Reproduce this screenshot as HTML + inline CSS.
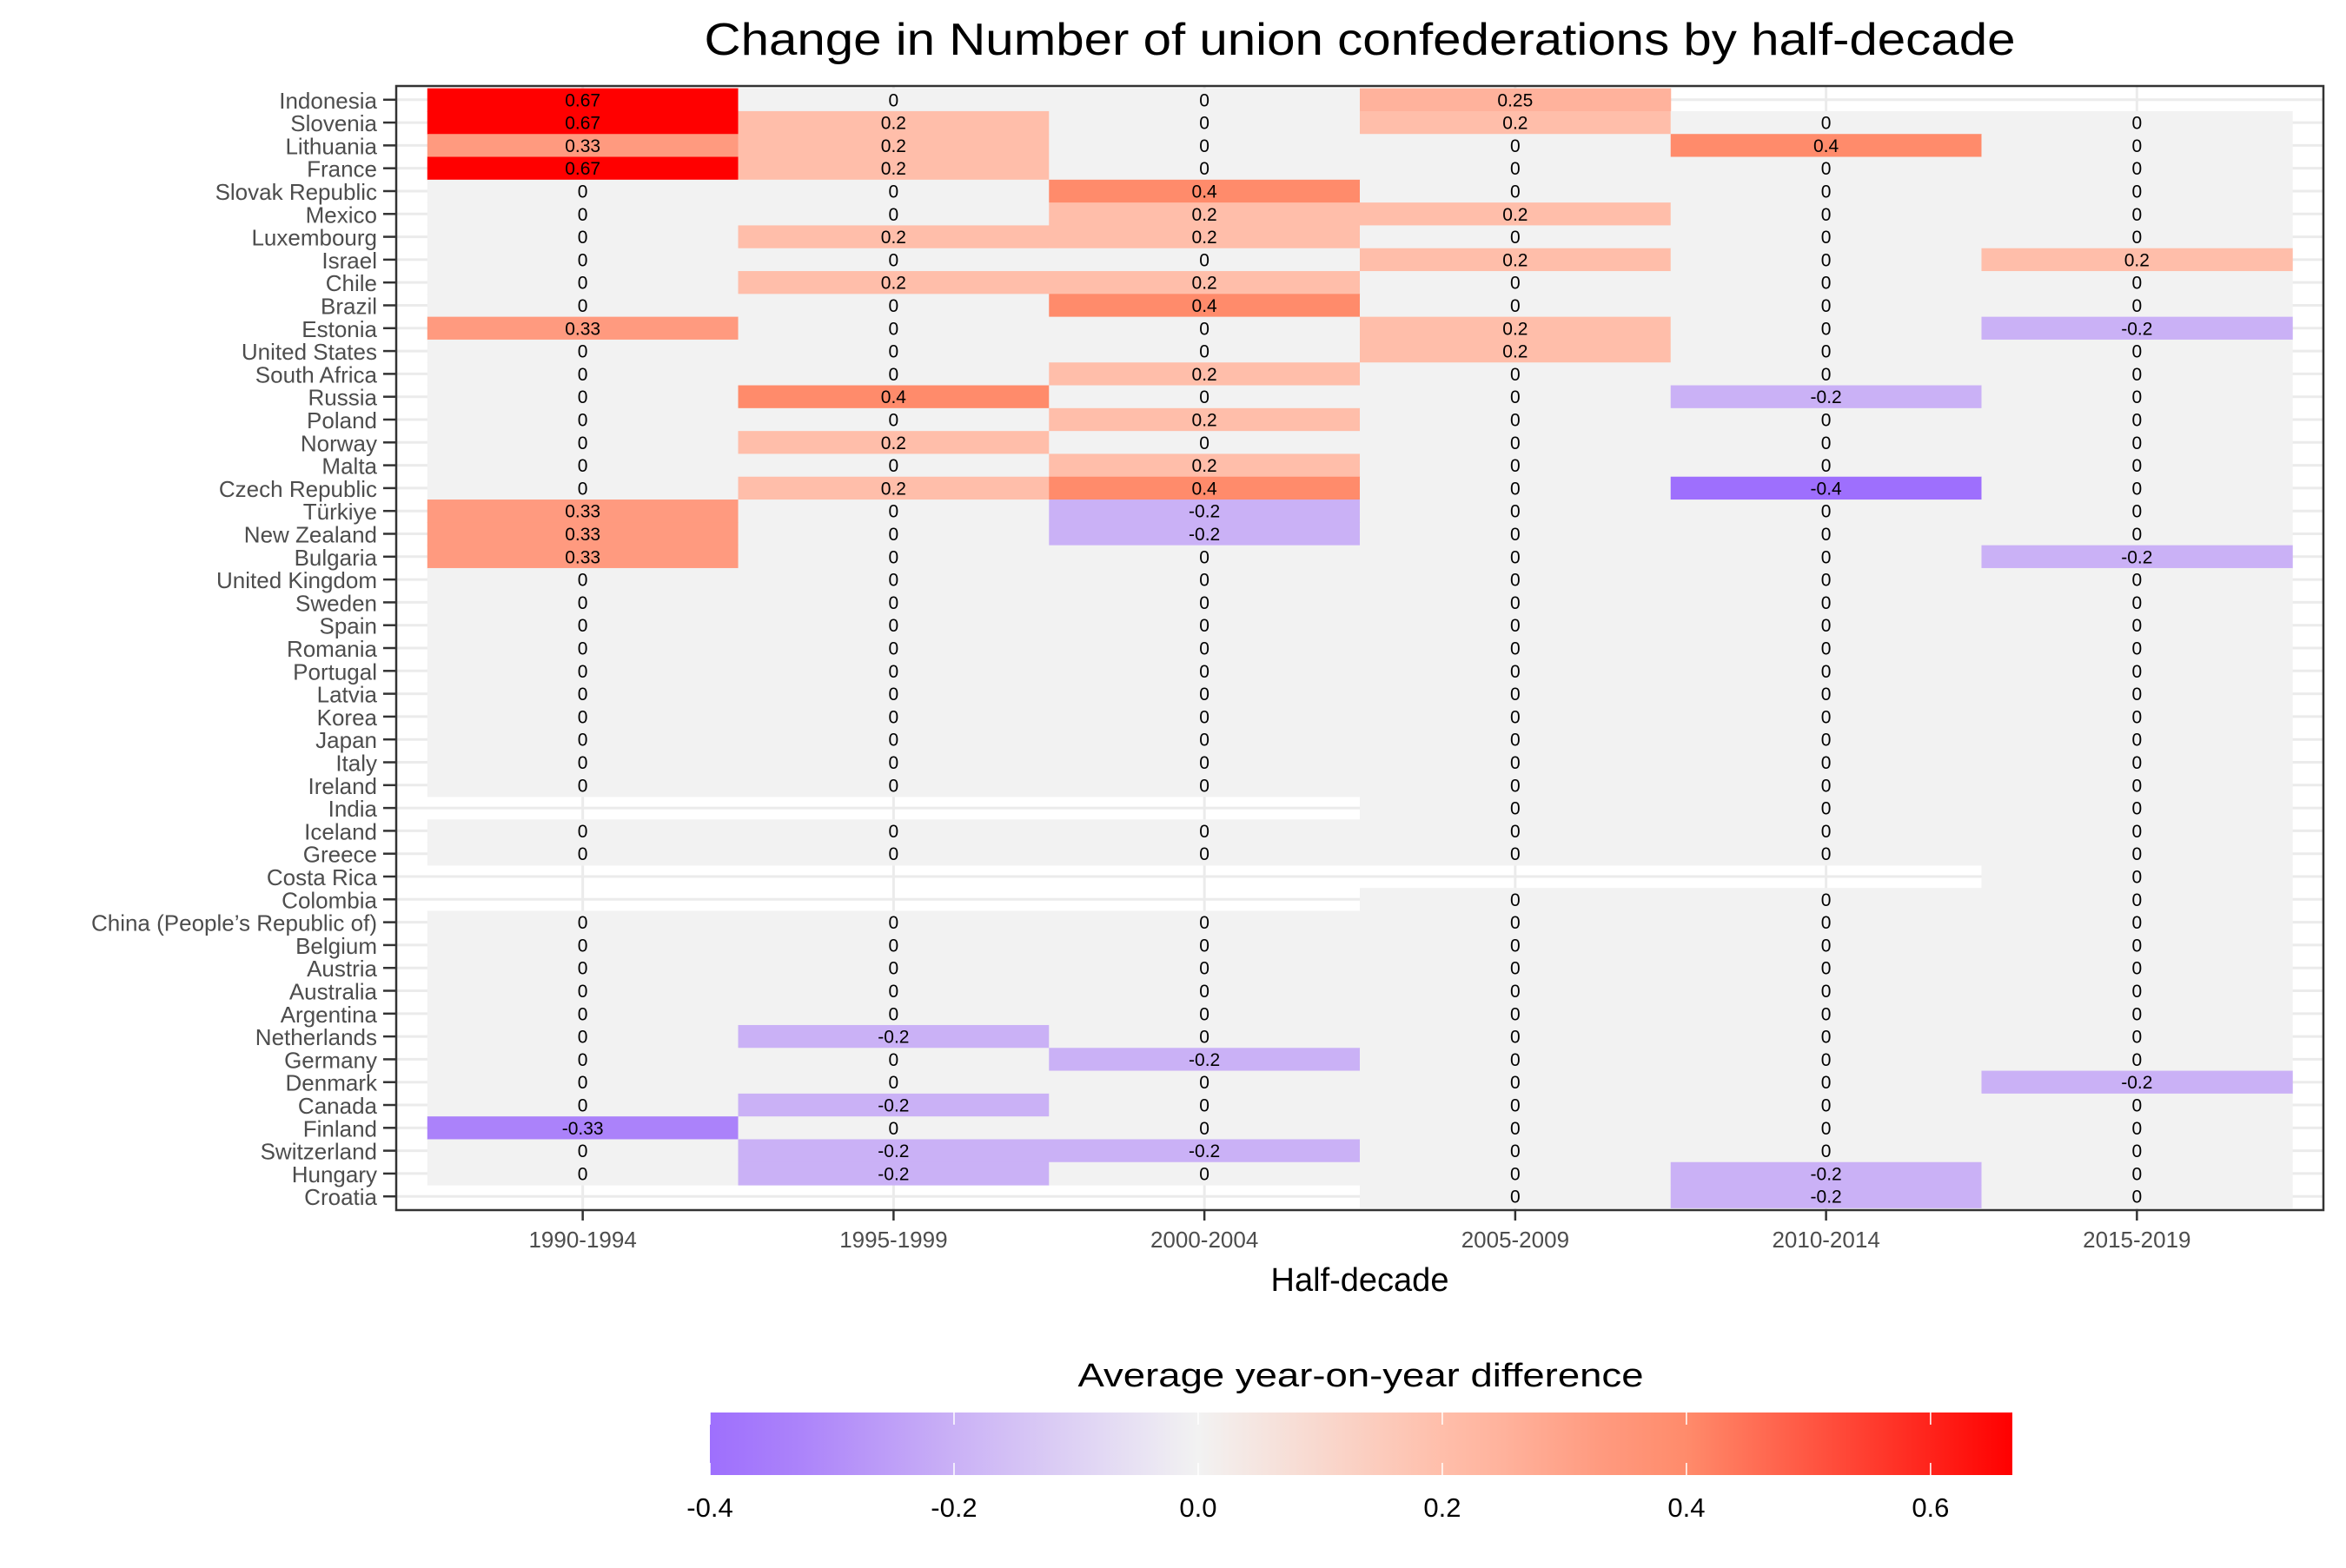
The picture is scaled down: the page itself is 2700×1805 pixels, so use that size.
<!DOCTYPE html>
<html><head><meta charset="utf-8"><style>
html,body{margin:0;padding:0;background:#fff;}
svg text{font-family:"Liberation Sans",Arial,sans-serif;}
</style></head><body>
<svg id="chart" xmlns="http://www.w3.org/2000/svg" width="2700" height="1800" viewBox="0 0 2700 1800">
<rect width="2700" height="1800" fill="#fff"/>
<text x="1565" y="63" font-size="52" text-anchor="middle" textLength="1509" lengthAdjust="spacingAndGlyphs" fill="#000">Change in Number of union confederations by half-decade</text>
<g id="grid"></g><g id="tiles"></g><g id="labels"></g><g id="axes"></g><g id="legend"></g>
</svg>
<script>
const countries = ["Indonesia","Slovenia","Lithuania","France","Slovak Republic","Mexico","Luxembourg","Israel","Chile","Brazil","Estonia","United States","South Africa","Russia","Poland","Norway","Malta","Czech Republic","Türkiye","New Zealand","Bulgaria","United Kingdom","Sweden","Spain","Romania","Portugal","Latvia","Korea","Japan","Italy","Ireland","India","Iceland","Greece","Costa Rica","Colombia","China (People’s Republic of)","Belgium","Austria","Australia","Argentina","Netherlands","Germany","Denmark","Canada","Finland","Switzerland","Hungary","Croatia"];
const periods = ["1990-1994","1995-1999","2000-2004","2005-2009","2010-2014","2015-2019"];
const N = null;
const values = [
[0.67,0,0,0.25,N,N],
[0.67,0.2,0,0.2,0,0],
[0.33,0.2,0,0,0.4,0],
[0.67,0.2,0,0,0,0],
[0,0,0.4,0,0,0],
[0,0,0.2,0.2,0,0],
[0,0.2,0.2,0,0,0],
[0,0,0,0.2,0,0.2],
[0,0.2,0.2,0,0,0],
[0,0,0.4,0,0,0],
[0.33,0,0,0.2,0,-0.2],
[0,0,0,0.2,0,0],
[0,0,0.2,0,0,0],
[0,0.4,0,0,-0.2,0],
[0,0,0.2,0,0,0],
[0,0.2,0,0,0,0],
[0,0,0.2,0,0,0],
[0,0.2,0.4,0,-0.4,0],
[0.33,0,-0.2,0,0,0],
[0.33,0,-0.2,0,0,0],
[0.33,0,0,0,0,-0.2],
[0,0,0,0,0,0],[0,0,0,0,0,0],[0,0,0,0,0,0],[0,0,0,0,0,0],[0,0,0,0,0,0],
[0,0,0,0,0,0],[0,0,0,0,0,0],[0,0,0,0,0,0],[0,0,0,0,0,0],[0,0,0,0,0,0],
[N,N,N,0,0,0],
[0,0,0,0,0,0],
[0,0,0,0,0,0],
[N,N,N,N,N,0],
[N,N,N,0,0,0],
[0,0,0,0,0,0],[0,0,0,0,0,0],[0,0,0,0,0,0],[0,0,0,0,0,0],[0,0,0,0,0,0],
[0,-0.2,0,0,0,0],
[0,0,-0.2,0,0,0],
[0,0,0,0,0,-0.2],
[0,-0.2,0,0,0,0],
[-0.33,0,0,0,0,0],
[0,-0.2,-0.2,0,0,0],
[0,-0.2,0,0,-0.2,0],
[N,N,N,0,-0.2,0]
];
const legendTicks = [-0.4,-0.2,0,0.2,0.4,0.6];
const legendMin = -0.4, legendMax = 0.667;

const NS="http://www.w3.org/2000/svg";
function mk(tag,attrs,parent,text){const e=document.createElementNS(NS,tag);for(const k in attrs)e.setAttribute(k,attrs[k]);if(text!==undefined)e.textContent=text;parent.appendChild(e);return e;}
const P={l:456,r:2674,t:99,b:1393};
const colStep=(P.r-P.l)/(periods.length-1+1.2);
const rowStep=(P.b-P.t)/(countries.length-1+1.2);
function xPos(i){return P.l+colStep*(0.6+i);}
function yPos(j){return P.t+rowStep*(0.6+j);}
const anchors=[[-0.4,[158,111,253]],[-0.33,[171,130,250]],[-0.2,[202,177,246]],[0,[242,242,242]],[0.2,[255,190,170]],[0.25,[255,178,156]],[0.33,[255,154,127]],[0.4,[255,139,107]],[0.667,[255,0,0]]];
function color(v){
  if(v<=anchors[0][0])return rgb(anchors[0][1]);
  for(let i=1;i<anchors.length;i++){if(v<=anchors[i][0]){const a=anchors[i-1],b=anchors[i];const t=(v-a[0])/(b[0]-a[0]);return rgb(a[1].map((c,k)=>c+(b[1][k]-c)*t));}}
  return rgb(anchors[anchors.length-1][1]);
}
function rgb(c){return "rgb("+c.map(Math.round).join(",")+")";}

const grid=document.getElementById('grid'),tiles=document.getElementById('tiles'),labels=document.getElementById('labels'),axes=document.getElementById('axes'),legend=document.getElementById('legend');
const bg=mk('rect',{x:P.l,y:P.t,width:P.r-P.l,height:P.b-P.t,fill:'#fff'},grid);


periods.forEach((p,i)=>{const l=mk('line',{x1:xPos(i),x2:xPos(i),y1:P.t,y2:P.b,stroke:'#ebebeb','stroke-width':3},grid);

});
countries.forEach((c,j)=>{const l=mk('line',{x1:P.l,x2:P.r,y1:yPos(j),y2:yPos(j),stroke:'#ebebeb','stroke-width':3},grid);

});

countries.forEach((c,j)=>{
  values[j].forEach((v,i)=>{
    if(v===null)return;
    const r=mk('rect',{x:xPos(i)-colStep/2,y:yPos(j)-rowStep/2,width:colStep+0.5,height:rowStep+0.5,fill:color(v)},tiles);
    
    
    const t=mk('text',{x:xPos(i),y:yPos(j)+7.5,'font-size':21,'text-anchor':'middle',fill:'#000'},labels,String(v));
    
    
  });
  const yl=mk('text',{x:434,y:yPos(j)+10,'font-size':26,'text-anchor':'end',fill:'#4d4d4d'},axes,c);
  
  
  const tk=mk('line',{x1:441,x2:456,y1:yPos(j),y2:yPos(j),stroke:'#333','stroke-width':2.5},axes);
  
  
});
periods.forEach((p,i)=>{
  const tk=mk('line',{x1:xPos(i),x2:xPos(i),y1:P.b,y2:P.b+12,stroke:'#333','stroke-width':2.5},axes);
  
  
  const xl=mk('text',{x:xPos(i),y:P.b+43,'font-size':26,'text-anchor':'middle',fill:'#4d4d4d'},axes,p);
  
  
});
const border=mk('rect',{x:P.l,y:P.t,width:P.r-P.l,height:P.b-P.t,fill:'none',stroke:'#333','stroke-width':2.5},axes);


const xt=mk('text',{x:1565,y:1486,'font-size':38,'text-anchor':'middle',fill:'#000'},axes,'Half-decade');



// legend
const L={l:817,r:2316,t:1626,b:1698};
function lx(v){return L.l+(v-legendMin)/(legendMax-legendMin)*(L.r-L.l);}
const defs=mk('defs',{},legend);
const grad=mk('linearGradient',{id:'lg',x1:0,x2:1,y1:0,y2:0},defs);
anchors.forEach(a=>{mk('stop',{offset:((a[0]-legendMin)/(legendMax-legendMin)),'stop-color':rgb(a[1])},grad);});
const lt=mk('text',{x:1566,y:1596,'font-size':38,'text-anchor':'middle',fill:'#000',textLength:651,lengthAdjust:'spacingAndGlyphs'},legend,'Average year-on-year difference');


const bar=mk('rect',{x:L.l,y:L.t,width:L.r-L.l,height:L.b-L.t,fill:'url(#lg)'},legend);


legendTicks.forEach(v=>{
  const a=mk('line',{x1:lx(v),x2:lx(v),y1:L.t,y2:L.t+14,stroke:'#fff','stroke-width':1.5},legend);
  
  
  const b=mk('line',{x1:lx(v),x2:lx(v),y1:L.b-14,y2:L.b,stroke:'#fff','stroke-width':1.5},legend);
  
  
  const t=mk('text',{x:lx(v),y:1746,'font-size':31,'text-anchor':'middle',fill:'#000'},legend,v.toFixed(1));
  
  
});
</script>
</body></html>
